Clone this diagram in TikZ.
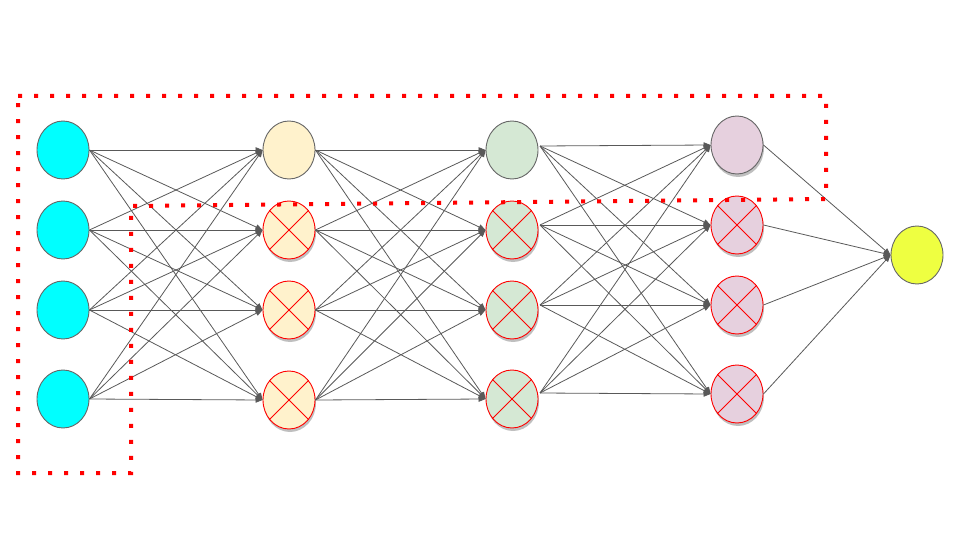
\documentclass[tikz,border=0pt]{standalone}
\usetikzlibrary{shapes.geometric,arrows.meta,shadows}
\definecolor{inC}{HTML}{00FFFF}
\definecolor{hAC}{HTML}{FFF2CC}
\definecolor{hBC}{HTML}{D5E8D4}
\definecolor{hCC}{HTML}{E6D0DE}
\definecolor{outC}{HTML}{EEFF41}
\definecolor{edgeC}{HTML}{595959}
\definecolor{rimC}{HTML}{666666}
\tikzset{
  neuron/.style={ellipse, minimum width=52pt, minimum height=58pt, inner sep=0pt, draw=rimC, line width=0.9pt},
  shadowed/.style={drop shadow={shadow xshift=1pt, shadow yshift=-3pt, opacity=0.25, fill=black}},
  dropped/.style={draw=red, shadowed},
  conn/.style={draw=edgeC, line width=0.8pt, -{Triangle[length=7pt,width=5.5pt]}},
  crossline/.style={draw=red, line width=0.8pt},
  frame/.style={draw=red, line width=4pt, dash pattern=on 4pt off 12pt}
}
\begin{document}
\begin{tikzpicture}[x=1pt,y=-1pt]
\useasboundingbox (0,0) rectangle (960,540);
% layer 1
\foreach \i/\y in {1/150,2/230,3/310,4/399}
  \node[neuron, fill=inC] (a\i) at (63,\y) {};
% layer 2
\node[neuron, fill=hAC] (b1) at (289,150) {};
\foreach \i/\y in {2/230,3/310,4/400}
  \node[neuron, fill=hAC, dropped] (b\i) at (289,\y) {};
% layer 3
\node[neuron, fill=hBC] (c1) at (512,150) {};
\foreach \i/\y in {2/230,3/310,4/399}
  \node[neuron, fill=hBC, dropped] (c\i) at (512,\y) {};
% layer 4
\node[neuron, fill=hCC, shadowed] (d1) at (737,145) {};
\foreach \i/\y in {2/225,3/305,4/394}
  \node[neuron, fill=hCC, dropped] (d\i) at (737,\y) {};
% output
\node[neuron, fill=outC] (o) at (917,255) {};
% start points of the layer-3 connectors
\foreach \i/\y in {1/146,2/225,3/305,4/393}
  \coordinate (cs\i) at (540,\y);
% crosses
\foreach \n in {b2,b3,b4,c2,c3,c4,d2,d3,d4}{
  \draw[crossline] (\n.45) -- (\n.225);
  \draw[crossline] (\n.135) -- (\n.315);
}
% connections
\foreach \i in {1,...,4}{
  \foreach \j in {1,...,4}{
    \draw[conn] (a\i.east) -- (b\j.west);
    \draw[conn] (b\i.east) -- (c\j.west);
    \draw[conn] (cs\i) -- (d\j.west);
  }
  \draw[conn] (d\i.east) -- (o.west);
}
% dotted frame
\coordinate (f1) at (18,96);
\coordinate (f2) at (826,96);
\coordinate (f3) at (826,199);
\coordinate (f4) at (131,206);
\coordinate (f5) at (131,473);
\coordinate (f6) at (18,473);
\draw[frame] (f1) -- (f2) -- (f3) -- (f4) -- (f5) -- (f6) -- cycle;
\end{tikzpicture}
\end{document}
